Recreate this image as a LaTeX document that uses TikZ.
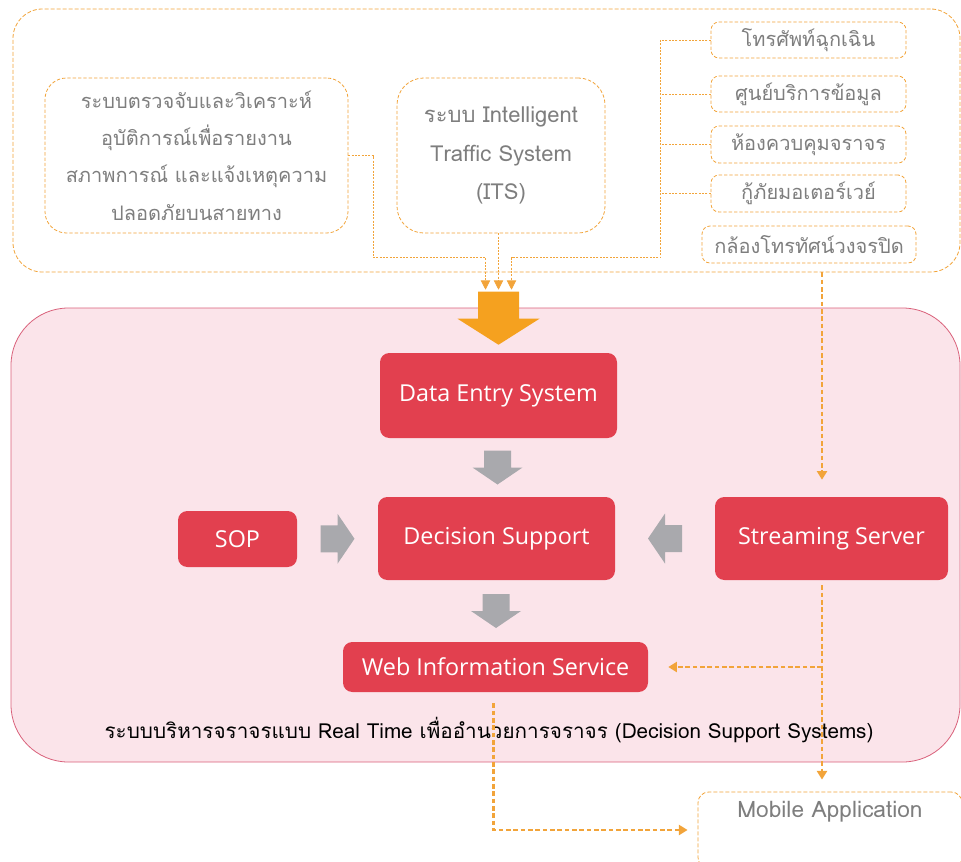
\documentclass[tikz,border=0pt]{standalone}
\usepackage{fontspec}
\setmainfont{Open Sans}
\newfontfamily\thaifont[Script=Thai]{Loma}
\usetikzlibrary{arrows.meta, calc}

\definecolor{lineorange}{HTML}{F2A43A}
\definecolor{bigorange}{HTML}{F5A11F}
\definecolor{boxred}{HTML}{E2404F}
\definecolor{panelpink}{HTML}{FBE4EA}
\definecolor{paneledge}{HTML}{D9607A}
\definecolor{arrowgray}{HTML}{A9A9AD}
\definecolor{textgray}{HTML}{7E7E7E}

\begin{document}
\begin{tikzpicture}[%
        x = 0.75pt, y = -0.75pt,
        sz/.style 2 args = {minimum width = #1*0.75pt, minimum height = #2*0.75pt},
        srcbox/.style = {%
            draw = lineorange, line width = 0.6pt,
            dash pattern = on 2.5pt off 1.5pt,
            fill = white, inner sep = 0pt, align = center,
            text = textgray, font = \thaifont\fontsize{15}{28}\selectfont
        },
        redbox/.style = {%
            fill = boxred, rounded corners = 7pt, inner sep = 0pt,
            text = white, font = \fontsize{17.5}{20}\selectfont
        },
        feed/.style = {%
            draw = lineorange, line width = 0.6pt,
            dash pattern = on 1.5pt off 1pt,
            -{Triangle[width = 7pt, length = 7pt]}
        },
        feedline/.style = {%
            draw = lineorange, line width = 0.6pt,
            dash pattern = on 1.5pt off 1pt
        },
        flow/.style = {%
            draw = lineorange, line width = 1.7pt,
            dash pattern = on 3.5pt off 2pt,
            -{Triangle[width = 7.5pt, length = 6.5pt]}
        }
    ]

        \useasboundingbox (0, 0) rectangle (961, 861);

        % The two panels.
        \node[srcbox, sz = {947}{263}, rounded corners = 22pt,
              dash pattern = on 3pt off 1.5pt] (src) at (486.5, 140.5) {};
        \node[draw = paneledge, line width = 0.6pt, fill = panelpink,
              rounded corners = 43pt, sz = {949}{454}] (panel) at (485.5, 535) {};

        % Sources of the data.
        \node[srcbox, sz = {303}{155}, rounded corners = 16pt] (det) at (196.5, 155.5)
            {ระบบตรวจจับและวิเคราะห์\\อุบัติการณ์เพื่อรายงาน\\สภาพการณ์ และแจ้งเหตุความ\\ปลอดภัยบนสายทาง};
        \node[srcbox, sz = {208}{155}, rounded corners = 20pt,
              font = \thaifont\fontsize{16.5}{29}\selectfont] (its) at (501, 155.5)
            {ระบบ Intelligent\\Traffic System\\(ITS)};
        \node[srcbox, sz = {195}{36}, rounded corners = 6pt] (tel) at (808.5, 40) {โทรศัพท์ฉุกเฉิน};
        \node[srcbox, sz = {195}{36}, rounded corners = 6pt] (info) at (808.5, 94) {ศูนย์บริการข้อมูล};
        \node[srcbox, sz = {195}{37}, rounded corners = 6pt] (ctrl) at (808.5, 144.5) {ห้องควบคุมจราจร};
        \node[srcbox, sz = {195}{37}, rounded corners = 6pt] (rescue) at (808.5, 193.5) {กู้ภัยมอเตอร์เวย์};
        \node[srcbox, sz = {214}{37}, rounded corners = 6pt] (cctv) at (809, 244.5) {กล้องโทรทัศน์วงจรปิด};

        % The decision support system.
        \node[redbox, sz = {237}{85}] (des) at (498.5, 395.5) {Data Entry System};
        \node[redbox, sz = {237}{83}] (dss) at (496.5, 538.5) {Decision Support};
        \node[redbox, sz = {119}{56}] (sop) at (237.5, 539) {SOP};
        \node[redbox, sz = {233}{83}] (stream) at (831.5, 538.5) {Streaming Server};
        \node[redbox, sz = {305}{50}] (wis) at (495.5, 667) {Web Information Service};
        \node[font = \thaifont\fontsize{15.5}{18}\selectfont, text = black] (caption) at (489, 730)
            {ระบบบริหารจราจรแบบ Real Time เพื่ออำนวยการจราจร (Decision Support Systems)};

        % The mobile application.
        \node[srcbox, sz = {264}{76}, rounded corners = 8pt,
              dash pattern = on 3pt off 1.5pt] (mobile) at (830, 830) {};
        \node[text = textgray, font = \thaifont\fontsize{17}{20}\selectfont] (mobiletext)
            at ($(mobile.north) + (0, 20)$) {Mobile Application};

        % Gray block arrows between the red boxes.
        \coordinate (g1) at ($(des.south)!0.5!(dss.north)$);
        \coordinate (g2) at ($(sop.east)!0.5!(dss.west)$);
        \coordinate (g3) at ($(stream.west)!0.5!(dss.east)$);
        \coordinate (g4) at ($(dss.south)!0.5!(wis.north)$);
        \foreach \g/\r in {g1/-90, g2/0, g3/180, g4/-90}{%
            \fill[arrowgray, shift = {(\g)}, rotate = \r]
                (-17, -13.5) -- (0, -13.5) -- (0, -25) -- (17, 0)
                -- (0, 25) -- (0, 13.5) -- (-17, 13.5) -- cycle;
        }

        % The big orange arrow into the data entry.
        \coordinate (tip) at ($(des.north) + (0, -8)$);
        \fill[bigorange] (tip) -- ++(41, -26) -- ++(-20.5, 0) -- ++(0, -27)
            -- ++(-41, 0) -- ++(0, 27) -- ++(-20.5, 0) -- cycle;

        % Thin feeds from the sources.
        \coordinate (in1) at ($(tip) + (-13, -55)$);
        \coordinate (in2) at ($(tip) + (0, -55)$);
        \coordinate (in3) at ($(tip) + (13, -55)$);
        \coordinate (spine) at ($(tel.west) + (-50, 0)$);
        \draw[feed] (det.east) -- ++(25, 0) |- ($(in1) + (0, -32)$) -- (in1);
        \draw[feed] (its.south -| in2) -- (in2);
        \draw[feed] (tel.west) -- (spine) |- ($(in3) + (0, -32)$) -- (in3);
        \foreach \b in {info, ctrl, rescue}{%
            \draw[feedline] (\b.west) -- (\b.west -| spine);
        }

        % Thick dashed flows.
        \coordinate (drop) at (822, 0);
        \draw[flow] (src.south -| drop) -- ($(stream.north -| drop) + (0, -17)$);
        \draw[flow] ($(stream.south -| drop) + (0, 5)$) -- ($(mobile.north -| drop) + (0, -12)$);
        \draw[flow] (drop |- wis.east) -- ($(wis.east) + (20, 0)$);
        \draw[flow] ($(wis.south) + (-2, 11)$) |- ($(mobile.west) + (-10, 0)$);
    \end{tikzpicture}
\end{document}
